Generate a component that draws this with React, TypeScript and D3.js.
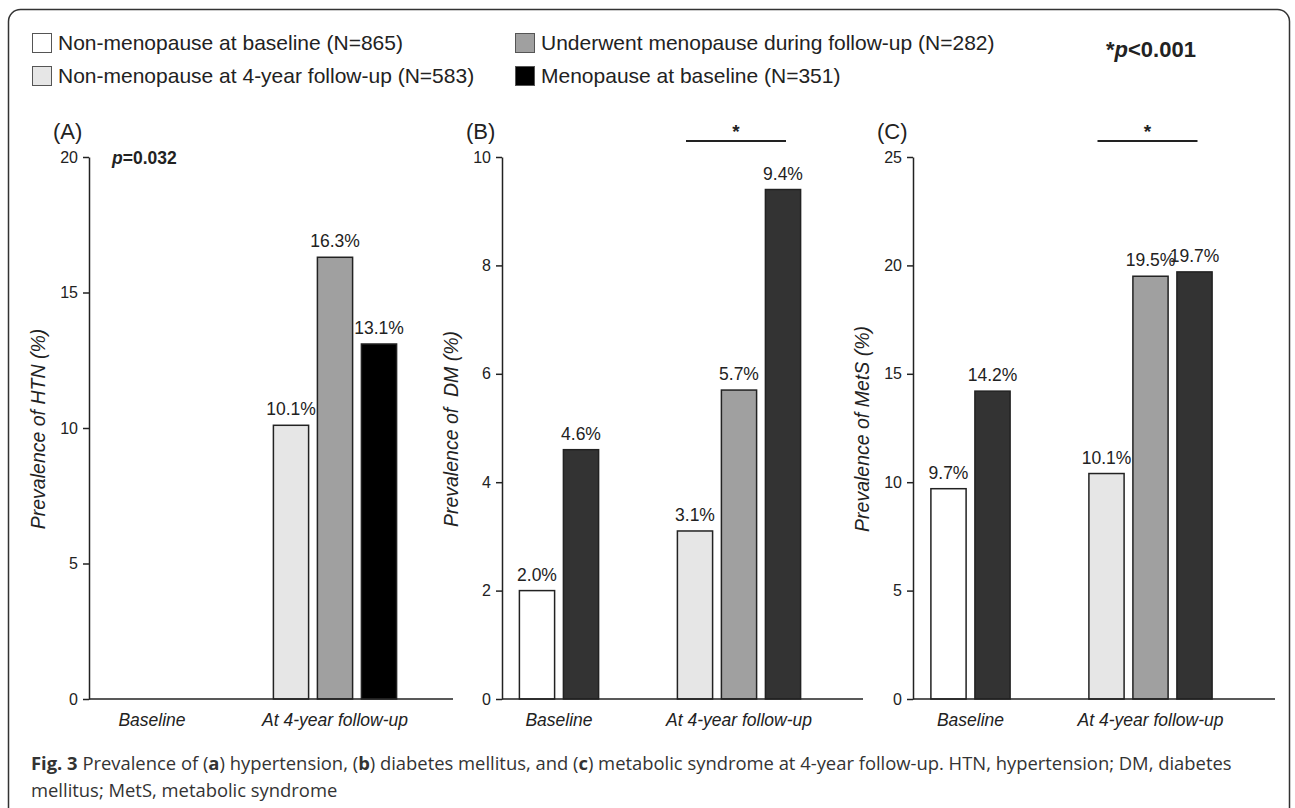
import React, { useEffect, useRef } from 'react'
import * as d3 from 'd3'

// legend / series
const seriesKeys = ['nonBase', 'nonFollow', 'underwent', 'menoBase']
const seriesLabels = [
  'Non-menopause at baseline (N=865)',
  'Non-menopause at 4-year follow-up (N=583)',
  'Underwent menopause during follow-up (N=282)',
  'Menopause at baseline (N=351)',
]
const groups = ['Baseline', 'At 4-year follow-up']

// (A) hypertension
const htnSeries = [[], ['nonFollow', 'underwent', 'menoBase']]
const htnValues = [[], [10.1, 16.3, 13.1]]
const htnLabels = [[], ['10.1%', '16.3%', '13.1%']]
const htnTicks = [0, 5, 10, 15, 20]

// (B) diabetes mellitus
const dmSeries = [['nonBase', 'menoBase'], ['nonFollow', 'underwent', 'menoBase']]
const dmValues = [[2.0, 4.6], [3.1, 5.7, 9.4]]
const dmLabels = [['2.0%', '4.6%'], ['3.1%', '5.7%', '9.4%']]
const dmTicks = [0, 2, 4, 6, 8, 10]

// (C) metabolic syndrome
const metsSeries = [['nonBase', 'menoBase'], ['nonFollow', 'underwent', 'menoBase']]
const metsValues = [[9.7, 14.2], [10.4, 19.5, 19.7]]
const metsLabels = [['9.7%', '14.2%'], ['10.1%', '19.5%', '19.7%']]
const metsTicks = [0, 5, 10, 15, 20, 25]

const W = 1295
const H = 808
const Y0 = 699
const YTOP = 157
const PITCH = 44
const FONT = '"Liberation Sans", Arial, sans-serif'
const INK = '#222'

const panels = [
  { letter: '(A)', title: 'Prevalence of HTN (%)', series: htnSeries, values: htnValues, labels: htnLabels, ticks: htnTicks,
    x0: 89, x1: 453, off: [63, 246], dark: '#000', pText: true, sig: false, titleX: 45 },
  { letter: '(B)', title: 'Prevalence of  DM (%)', series: dmSeries, values: dmValues, labels: dmLabels, ticks: dmTicks,
    x0: 502, x1: 863, off: [57, 237], dark: '#333', pText: false, sig: true, titleX: 458 },
  { letter: '(C)', title: 'Prevalence of MetS (%)', series: metsSeries, values: metsValues, labels: metsLabels, ticks: metsTicks,
    x0: 913, x1: 1275, off: [57.5, 237.5], dark: '#333', pText: false, sig: true, titleX: 869 },
]

const fills: Record<string, string> = {
  nonBase: '#ffffff',
  nonFollow: '#e6e6e6',
  underwent: '#a0a0a0',
  menoBase: '#000000',
}

export default function App() {
  const ref = useRef<SVGSVGElement>(null)

  useEffect(() => {
    if (!ref.current) return
    const svg = d3.select(ref.current)
    svg.selectAll('*').remove()

    // outer frame
    svg.append('rect')
      .attr('x', 8.5).attr('y', 9.5)
      .attr('width', 1281).attr('height', 840)
      .attr('rx', 12)
      .attr('fill', 'none').attr('stroke', '#333').attr('stroke-width', 1.5)

    // legend
    const legend = svg.append('g').attr('font-family', FONT).attr('font-size', 21).attr('fill', INK)
    const legPos = [[32, 33], [32, 66], [515, 33], [515, 66]]
    seriesKeys.forEach((k, i) => {
      const [lx, ly] = legPos[i]
      legend.append('rect')
        .attr('x', lx + 0.5).attr('y', ly + 0.5).attr('width', 19).attr('height', 19)
        .attr('fill', fills[k]).attr('stroke', '#555').attr('stroke-width', 1)
      legend.append('text').attr('x', lx + 26).attr('y', ly + 17).text(seriesLabels[i])
    })
    const star = svg.append('text')
      .attr('x', 1106).attr('y', 57)
      .attr('font-family', FONT).attr('font-size', 22).attr('font-weight', 'bold').attr('fill', INK)
    star.append('tspan').text('*')
    star.append('tspan').attr('font-style', 'italic').text('p')
    star.append('tspan').text('<0.001')

    panels.forEach((p) => {
      const g = svg.append('g').attr('font-family', FONT).attr('fill', INK)
      const y = d3.scaleLinear().domain([0, d3.max(p.ticks) as number]).range([Y0, YTOP])
      const gx = d3.scalePoint<string>().domain(groups).range([p.x0 + p.off[0], p.x0 + p.off[1]])

      // bars
      groups.forEach((grp, gi) => {
        const keys = p.series[gi] as string[]
        if (!keys.length) return
        const inner = d3.scaleBand<string>()
          .domain(keys)
          .range([-keys.length * PITCH / 2, keys.length * PITCH / 2])
          .paddingInner(0.2).paddingOuter(0.1)
        const cx = gx(grp) as number
        keys.forEach((k, j) => {
          const v = p.values[gi][j]
          const bx = cx + (inner(k) as number)
          g.append('rect')
            .attr('x', bx).attr('y', y(v))
            .attr('width', inner.bandwidth()).attr('height', Y0 - y(v))
            .attr('fill', k === 'menoBase' ? p.dark : fills[k])
            .attr('stroke', INK).attr('stroke-width', 1.5)
          g.append('text')
            .attr('x', bx + inner.bandwidth() / 2).attr('y', y(v) - 10)
            .attr('text-anchor', 'middle').attr('font-size', 17.5)
            .text(p.labels[gi][j])
        })
      })

      // y axis
      const ya = g.append('g')
        .attr('transform', `translate(${p.x0},0)`)
        .call(d3.axisLeft(y).tickValues(p.ticks).tickSize(6).tickSizeOuter(0).tickPadding(5))
      ya.select('.domain').attr('stroke', INK).attr('stroke-width', 1.5)
      ya.selectAll('.tick line').attr('stroke', INK).attr('stroke-width', 1.5)
      ya.selectAll('.tick text').attr('font-size', 16).attr('font-family', FONT).attr('fill', INK)

      // x axis line
      g.append('line')
        .attr('x1', p.x0).attr('x2', p.x1).attr('y1', Y0).attr('y2', Y0)
        .attr('stroke', INK).attr('stroke-width', 1.5)
      groups.forEach((grp) => {
        g.append('text')
          .attr('x', gx(grp) as number).attr('y', 726)
          .attr('text-anchor', 'middle').attr('font-size', 17.5).attr('font-style', 'italic')
          .text(grp)
      })

      // panel letter and y title
      g.append('text').attr('x', p.x0 - 36).attr('y', 139).attr('font-size', 22).text(p.letter)
      g.append('text')
        .attr('transform', `translate(${p.titleX},429) rotate(-90)`)
        .attr('text-anchor', 'middle').attr('font-size', 19.5).attr('font-style', 'italic')
        .style('white-space', 'pre')
        .text(p.title)

      if (p.pText) {
        const t = g.append('text').attr('x', p.x0 + 23).attr('y', 164)
          .attr('font-size', 17.5).attr('font-weight', 'bold')
        t.append('tspan').attr('font-style', 'italic').text('p')
        t.append('tspan').text('=0.032')
      }
      if (p.sig) {
        const cx = (gx(groups[1]) as number) - 3
        g.append('line')
          .attr('x1', cx - 50).attr('x2', cx + 50).attr('y1', 141).attr('y2', 141)
          .attr('stroke', INK).attr('stroke-width', 2)
        g.append('text').attr('x', cx).attr('y', 138)
          .attr('text-anchor', 'middle').attr('font-size', 19).attr('font-weight', 'bold')
          .text('*')
      }
    })

    // caption
    const cap = svg.append('g').attr('font-family', '"Open Sans", "Noto Sans", sans-serif')
      .attr('font-size', 18.4).attr('fill', '#333')
    const l1 = cap.append('text').attr('x', 31).attr('y', 770)
    const parts: [string, boolean][] = [
      ['Fig. 3', true], [' Prevalence of (', false], ['a', true], [') hypertension, (', false], ['b', true],
      [') diabetes mellitus, and (', false], ['c', true],
      [') metabolic syndrome at 4-year follow-up. HTN, hypertension; DM, diabetes', false],
    ]
    parts.forEach(([s, b]) => {
      l1.append('tspan').attr('font-weight', b ? 'bold' : 'normal').text(s)
    })
    cap.append('text').attr('x', 31).attr('y', 797).text('mellitus; MetS, metabolic syndrome')
  }, [])

  return (
    <svg ref={ref} width={W} height={H}
      style={{ position: 'absolute', left: 0, top: 0, background: '#fff' }} />
  )
}
